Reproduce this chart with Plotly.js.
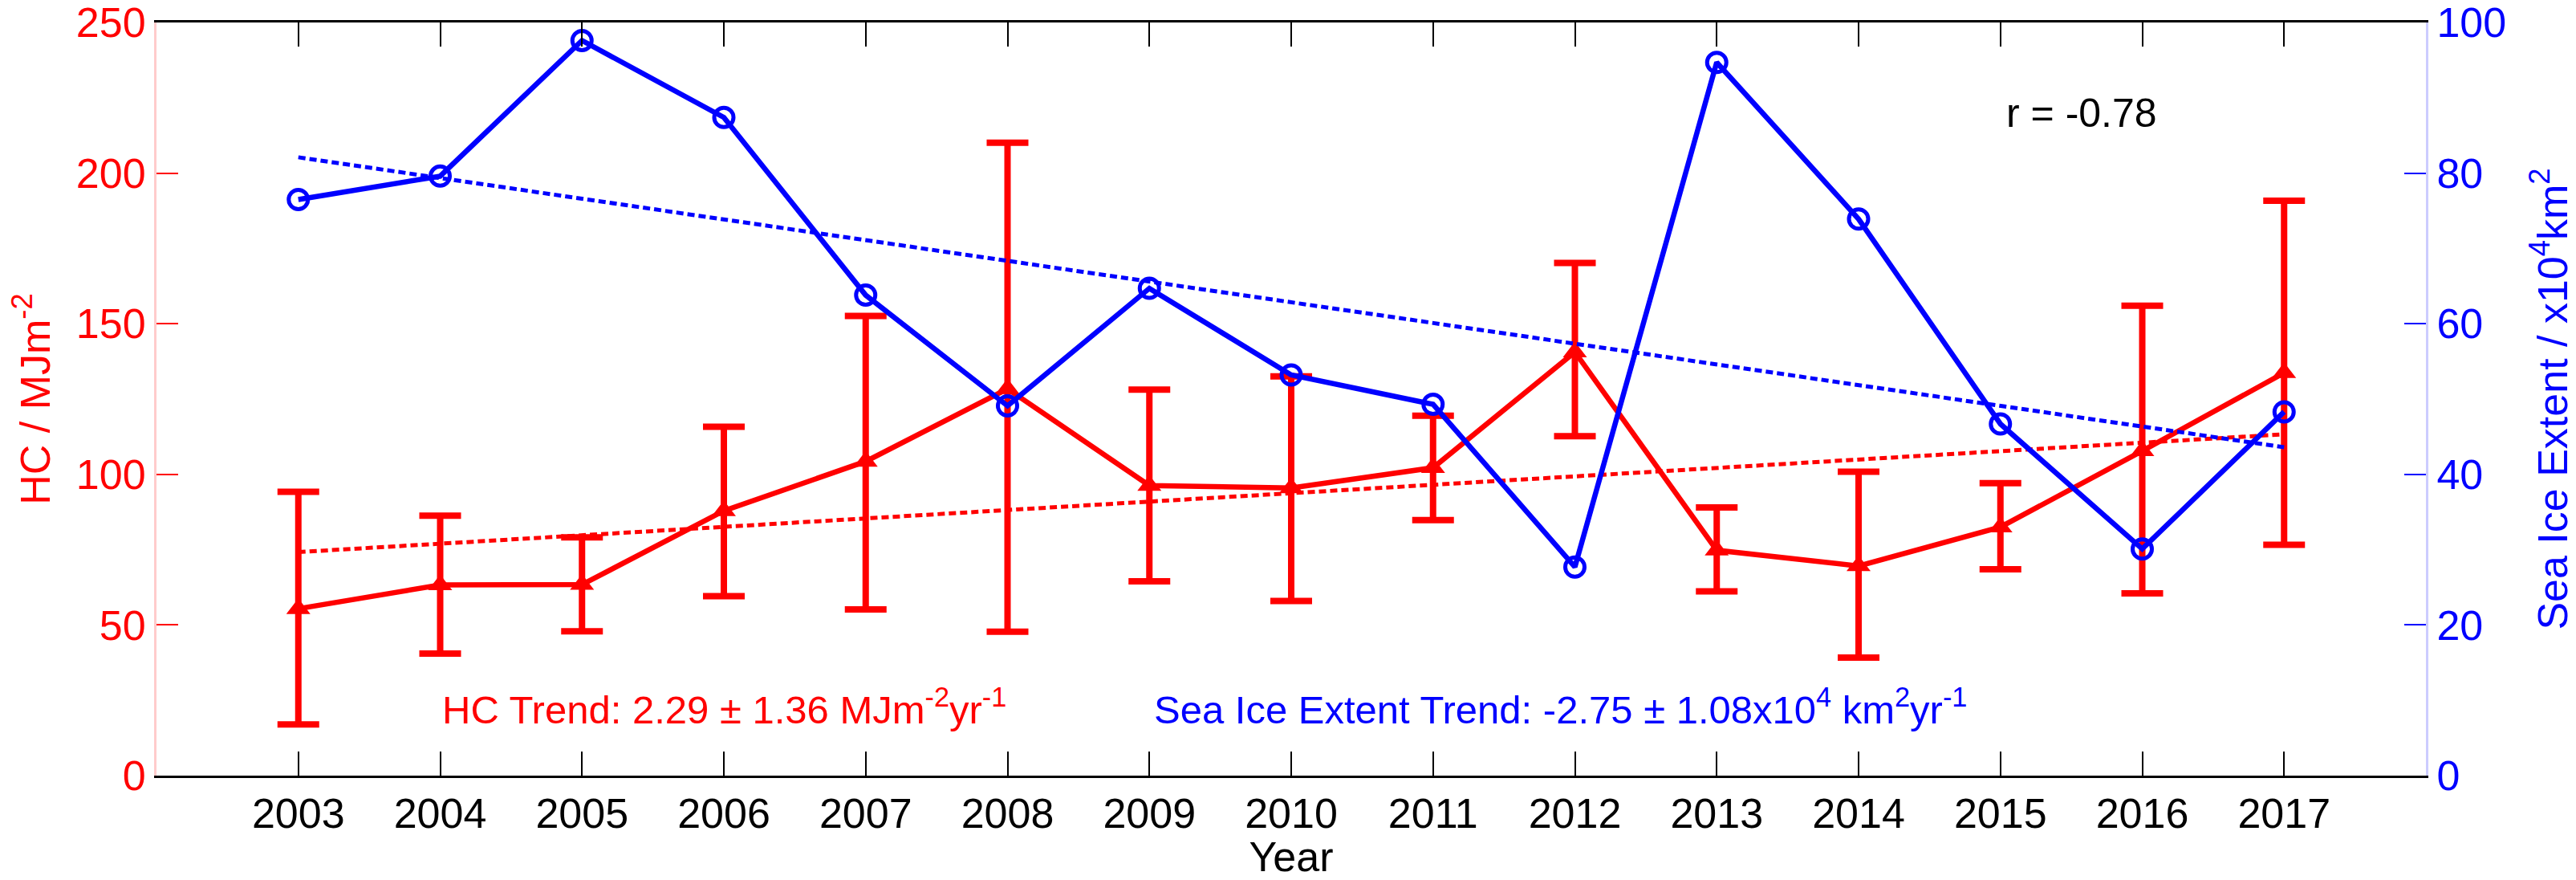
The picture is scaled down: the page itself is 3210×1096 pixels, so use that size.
<!DOCTYPE html>
<html>
<head>
<meta charset="utf-8">
<script src="https://cdn.plot.ly/plotly-3.0.1.min.js"></script>
<style>
  html, body { margin: 0; padding: 0; background: #fff; }
  #chart { width: 3210px; height: 1096px; }
</style>
</head>
<body>
<div id="chart"></div>
<script>
// Values
const years = [2003, 2004, 2005, 2006, 2007, 2008, 2009, 2010, 2011, 2012, 2013, 2014, 2015, 2016, 2017];
const hc = [55.4, 63.3, 63.4, 87.9, 104.3, 128.4, 96.3, 95.5, 102.2, 140.6, 74.8, 69.6, 82.5, 107.8, 133.7];
const hcUpper = [94.2, 86.3, 79.1, 115.8, 152.6, 210.1, 128.1, 132.5, 119.5, 170.2, 89.0, 100.9, 97.1, 156.0, 190.8];
const hcLower = [17.0, 40.5, 47.9, 59.6, 55.2, 47.8, 64.5, 58.0, 84.8, 112.7, 61.2, 39.2, 68.5, 60.5, 76.6];
const seaIce = [76.5, 79.6, 97.6, 87.4, 63.8, 49.1, 64.7, 53.2, 49.3, 27.7, 94.7, 73.9, 46.7, 30.1, 48.3];

const trendYears = [2003, 2017];
const hcTrend = [74.2, 113.3];
const iceTrend = [82.1, 43.6];

const RED = '#FF0000';
const BLUE = '#0000FF';
const FONT = 'Liberation Sans, Arial, Helvetica, sans-serif';

const traces = [
    {
        type: 'scatter',
        mode: 'lines',
        x: trendYears,
        y: hcTrend,
        yaxis: 'y',
        line: { color: RED, width: 5, dash: '9px,5px' },
        hoverinfo: 'skip'
    },
    {
        type: 'scatter',
        mode: 'lines+markers',
        x: years,
        y: hc,
        yaxis: 'y',
        name: 'HC',
        line: { color: RED, width: 6.5 },
        marker: { color: RED, size: 26, symbol: 'triangle-up' },
        error_y: {
            type: 'data',
            symmetric: false,
            array: hcUpper.map((v, i) => v - hc[i]),
            arrayminus: hc.map((v, i) => v - hcLower[i]),
            color: RED,
            thickness: 8,
            width: 26
        }
    },
    {
        type: 'scatter',
        mode: 'lines',
        x: trendYears,
        y: iceTrend,
        yaxis: 'y2',
        line: { color: BLUE, width: 5, dash: '9px,5px' },
        hoverinfo: 'skip'
    },
    {
        type: 'scatter',
        mode: 'lines+markers',
        x: years,
        y: seaIce,
        yaxis: 'y2',
        name: 'Sea Ice Extent',
        line: { color: BLUE, width: 6.5 },
        marker: { color: BLUE, size: 24, symbol: 'circle-open', line: { color: BLUE, width: 5 } }
    }
];

const layout = {
    width: 3210,
    height: 1096,
    margin: { l: 195, r: 187, t: 28, b: 130 },
    paper_bgcolor: '#FFFFFF',
    plot_bgcolor: '#FFFFFF',
    showlegend: false,
    font: { family: FONT, size: 52, color: '#000' },
    xaxis: {
        range: [2002, 2018],
        tickmode: 'array',
        tickvals: years,
        ticktext: years.map(String),
        ticks: 'inside',
        ticklen: 30,
        tickwidth: 2,
        tickcolor: '#000',
        showline: true,
        linecolor: '#000',
        linewidth: 3,
        mirror: 'ticks',
        showgrid: false,
        zeroline: false,
        tickfont: { family: FONT, size: 52, color: '#000' },
        title: { text: 'Year', font: { family: FONT, size: 52, color: '#000' }, standoff: 12 }
    },
    yaxis: {
        range: [0, 250],
        dtick: 50,
        ticks: 'inside',
        ticklen: 27,
        tickwidth: 2,
        tickcolor: RED,
        showline: true,
        linecolor: '#FFCCCC',
        linewidth: 3,
        showgrid: false,
        zeroline: false,
        ticklabeloverflow: 'allow',
        tickfont: { family: FONT, size: 52, color: RED },
        title: { text: 'HC / MJm<sup>-2</sup>', font: { family: FONT, size: 52, color: RED }, standoff: 16 }
    },
    yaxis2: {
        range: [0, 100],
        dtick: 20,
        overlaying: 'y',
        side: 'right',
        ticks: 'inside',
        ticklen: 27,
        tickwidth: 2,
        tickcolor: BLUE,
        showline: true,
        linecolor: '#CCCCFF',
        linewidth: 3,
        showgrid: false,
        zeroline: false,
        ticklabeloverflow: 'allow',
        tickfont: { family: FONT, size: 52, color: BLUE },
        title: { text: 'Sea Ice Extent / x10<sup>4</sup>km<sup>2</sup>', font: { family: FONT, size: 52, color: BLUE }, standoff: 62 }
    },
    annotations: [
        {
            xref: 'x', yref: 'y',
            x: 2004.0, y: 23,
            xanchor: 'left', yanchor: 'middle',
            showarrow: false,
            text: 'HC Trend: 2.29 ± 1.36 MJm<sup>-2</sup>yr<sup>-1</sup>',
            font: { family: FONT, size: 49, color: RED }
        },
        {
            xref: 'x', yref: 'y',
            x: 2009.02, y: 23,
            xanchor: 'left', yanchor: 'middle',
            showarrow: false,
            text: 'Sea Ice Extent Trend: -2.75 ± 1.08x10<sup>4</sup> km<sup>2</sup>yr<sup>-1</sup>',
            font: { family: FONT, size: 49, color: BLUE }
        },
        {
            xref: 'x', yref: 'y',
            x: 2015.57, y: 220,
            xanchor: 'center', yanchor: 'middle',
            showarrow: false,
            text: 'r = -0.78',
            font: { family: FONT, size: 50, color: '#000' }
        }
    ]
};

Plotly.newPlot('chart', traces, layout, { displayModeBar: false, responsive: false });
</script>
</body>
</html>
